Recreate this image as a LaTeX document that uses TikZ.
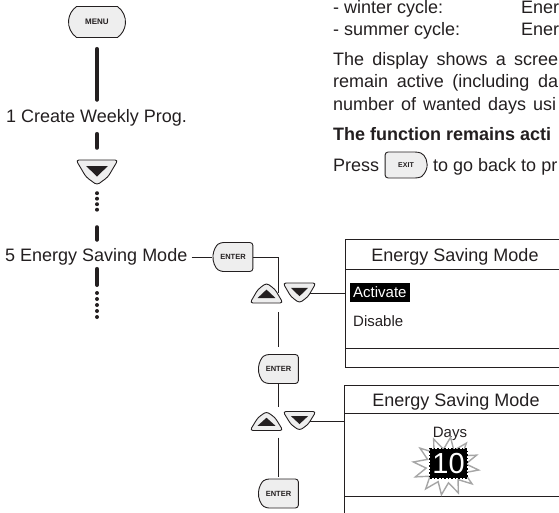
\documentclass[tikz,border=0pt]{standalone}
\usepackage{fontspec}
\setmainfont{Liberation Sans}
\usetikzlibrary{shapes.misc,shapes.geometric,calc}
\definecolor{ink}{HTML}{231F20}
\definecolor{btnfill}{HTML}{EEEEEE}
\definecolor{stargray}{HTML}{A6A6A6}

\newcommand\dnkey[3]{%
  \draw[keyline, shift={(#1.center)}, rounded corners=3pt]
    ({-#2/2},{-#3/2}) -- ({#2/2},{-#3/2}) -- ({0.26*#2},{0.18*#3}) -- (0,{#3/2}) -- ({-0.26*#2},{0.18*#3}) -- cycle;
  \fill[ink, shift={(#1.center)}] ({-0.26*#2},{-0.26*#3}) -- ({0.26*#2},{-0.26*#3}) -- (0,{0.16*#3}) -- cycle;
}
\newcommand\upkey[3]{%
  \draw[keyline, shift={(#1.center)}, rounded corners=3pt]
    ({-#2/2},{#3/2}) -- ({#2/2},{#3/2}) -- ({0.26*#2},{-0.18*#3}) -- (0,{-#3/2}) -- ({-0.26*#2},{-0.18*#3}) -- cycle;
  \fill[ink, shift={(#1.center)}] ({-0.27*#2},{0.25*#3}) -- ({0.27*#2},{0.25*#3}) -- (0,{-0.17*#3}) -- cycle;
}

\begin{document}
\begin{tikzpicture}[x=1pt,y=-1pt,
  every node/.style={text=ink},
  big/.style={font=\fontsize{18}{22}\selectfont, anchor=base west, inner sep=0pt},
  small/.style={font=\fontsize{15}{18}\selectfont, anchor=base west, inner sep=0pt},
  keyline/.style={draw=ink, fill=btnfill, line width=0.9pt},
  keylbl/.style={font=\bfseries\fontsize{7.5}{8}\selectfont},
  menukey/.style={keyline, rounded rectangle, rounded rectangle arc length=110, minimum width=57pt, minimum height=31pt, inner sep=0pt, keylbl, font=\bfseries\fontsize{8}{9}\selectfont},
  enterkey/.style={keyline, rounded rectangle, rounded rectangle right arc=none, rounded rectangle arc length=110, rounded corners=3pt, minimum width=40pt, minimum height=29pt, inner sep=0pt, keylbl},
  exitkey/.style={keyline, rounded rectangle, rounded rectangle left arc=none, rounded rectangle arc length=140, rounded corners=3pt, minimum width=42pt, minimum height=26pt, inner sep=0pt, font=\bfseries\fontsize{7}{8}\selectfont},
  vline/.style={draw=ink, line width=4pt, line cap=round},
  dotA/.style={draw=ink, line width=4pt, line cap=round, dash pattern=on 0pt off 5.5pt},
  dotB/.style={draw=ink, line width=4pt, line cap=round, dash pattern=on 0pt off 6pt},
  conn/.style={draw=ink, line width=0.9pt},
  screen/.style={draw=ink, line width=0.9pt, inner sep=0pt, anchor=north west}
]
\useasboundingbox (0,0) rectangle (559,512);

% ---------- top right text ----------
\node[big] (w1) at (333,13) {- winter cycle:};
\node[big] (w2) at (521,13) {Ener};
\node[big] (s1) at (333,35) {- summer cycle:};
\node[big] (s2) at (521,35) {Ener};
\node[big] (p1) at (333,65) {\makebox[225pt][s]{The display shows a scree}};
\node[big] (p2) at (333,87) {\makebox[225pt][s]{remain active (including da}};
\node[big] (p3) at (333,110) {\makebox[223pt][s]{number of wanted days usi}};
\node[big, font=\bfseries\fontsize{18}{22}\selectfont] (b1) at (333,140) {The function remains acti};
\node[big] (pr) at (333,171) {Press};
\node[exitkey] (exit) at (406,165) {EXIT};
\node[big] (pr2) at (433,171) {to go back to pr};

% ---------- left column ----------
\node[menukey] (menu) at (97,22) {MENU};
\node[big] (wk) at (6,122) {1 Create Weekly Prog.};
\node[minimum width=42pt, minimum height=25pt, inner sep=0pt] (dn0) at (97,172.5) {};
\node[big] (esm) at (5,261) {5 Energy Saving Mode};
\coordinate (d2a) at (97,293);
\coordinate (d2b) at (97,317);

\draw[vline, shorten <=11pt, shorten >=9pt] (menu.south) -- (menu.south |- wk.north);
\draw[vline, shorten <=8pt, shorten >=12pt] (menu.south |- wk.south) -- (dn0.north);
\draw[dotA, shorten <=8pt, shorten >=33pt] (dn0.south) -- (menu.south |- esm.north);
\draw[vline, shorten <=42pt, shorten >=8pt] (dn0.south) -- (menu.south |- esm.north);
\draw[vline, shorten <=4pt, shorten >=8pt] (menu.south |- esm.south) -- (d2a);
\draw[dotB] (d2a) -- (d2b);
\dnkey{dn0}{42}{25}

% ---------- right flow ----------
\node[enterkey] (en1) at (233,257) {ENTER};
\node[minimum width=33pt, minimum height=20pt, inner sep=0pt] (up1) at (266.5,293) {};
\node[minimum width=33pt, minimum height=20pt, inner sep=0pt] (dn1) at (299.5,293) {};
\node[enterkey] (en2) at (278.5,369) {ENTER};
\node[minimum width=33pt, minimum height=19pt, inner sep=0pt] (up2) at (266.5,421) {};
\node[minimum width=33pt, minimum height=19pt, inner sep=0pt] (dn2) at (299.5,421) {};
\node[enterkey] (en3) at (278.5,493.5) {ENTER};

\node[screen, minimum width=240pt, minimum height=128pt] (box1) at (345,239) {};
\node[screen, minimum width=240pt, minimum height=140pt] (box2) at (344,385) {};

\draw[conn, shorten <=4pt] (esm.east |- en1.west) -- (en1.west);
\draw[conn] (en1.east) -| (up1.center -| en2.center);
\draw[conn, shorten <=9pt, shorten >=7pt] (up1.south -| en2.north) -- (en2.north);
\draw[conn, shorten >=4pt] (en2.south) -- (up2.north -| en2.south);
\draw[conn, shorten <=7pt, shorten >=2pt] (up2.south -| en3.north) -- (en3.north);
\draw[conn] (dn1.center) -- (dn1.center -| box1.west);
\draw[conn] (dn2.center) -- (dn2.center -| box2.west);

\upkey{up1}{33}{20}
\dnkey{dn1}{33}{20}
\upkey{up2}{33}{19}
\dnkey{dn2}{33}{19}

% ---------- screen 1 ----------
\draw[conn] (345,269) -- (585,269);
\draw[conn] (345,348) -- (585,348);
\node[font=\fontsize{18}{22}\selectfont, anchor=base, inner sep=0pt] (t1) at (455,261) {Energy Saving Mode};
\node[fill=black, text=white, font=\fontsize{15}{18}\selectfont, inner xsep=3.5pt, inner ysep=0pt, minimum height=19pt, anchor=west] (act) at (349.5,292.5) {Activate};
\node[small] (dis) at (353,326) {Disable};

% ---------- screen 2 ----------
\draw[conn] (344,413) -- (585,413);
\draw[conn] (344,496) -- (585,496);
\node[font=\fontsize{18}{22}\selectfont, anchor=base, inner sep=0pt] (t2) at (456,406) {Energy Saving Mode};
\node[font=\fontsize{15}{18}\selectfont, anchor=base, inner sep=0pt] (days) at (450,437) {Days};
\draw[draw=stargray, fill=white, line width=1.4pt]
  plot[samples at={0,...,23}, variable=\i] ({446+(33-13*mod(\i,2))*cos(15*\i+8)}, {466+(29-12*mod(\i,2))*sin(15*\i+8)}) -- cycle;
\node[fill=black, draw=black, dash pattern=on 1.5pt off 2pt, line width=1.2pt, minimum width=37pt, minimum height=29pt, inner sep=0pt] (ten) at (448.5,463.5) {};
\node[text=white, font=\fontsize{29}{30}\selectfont, inner sep=0pt] (tenlbl) at (448.5,464) {10};
\end{tikzpicture}
\end{document}
